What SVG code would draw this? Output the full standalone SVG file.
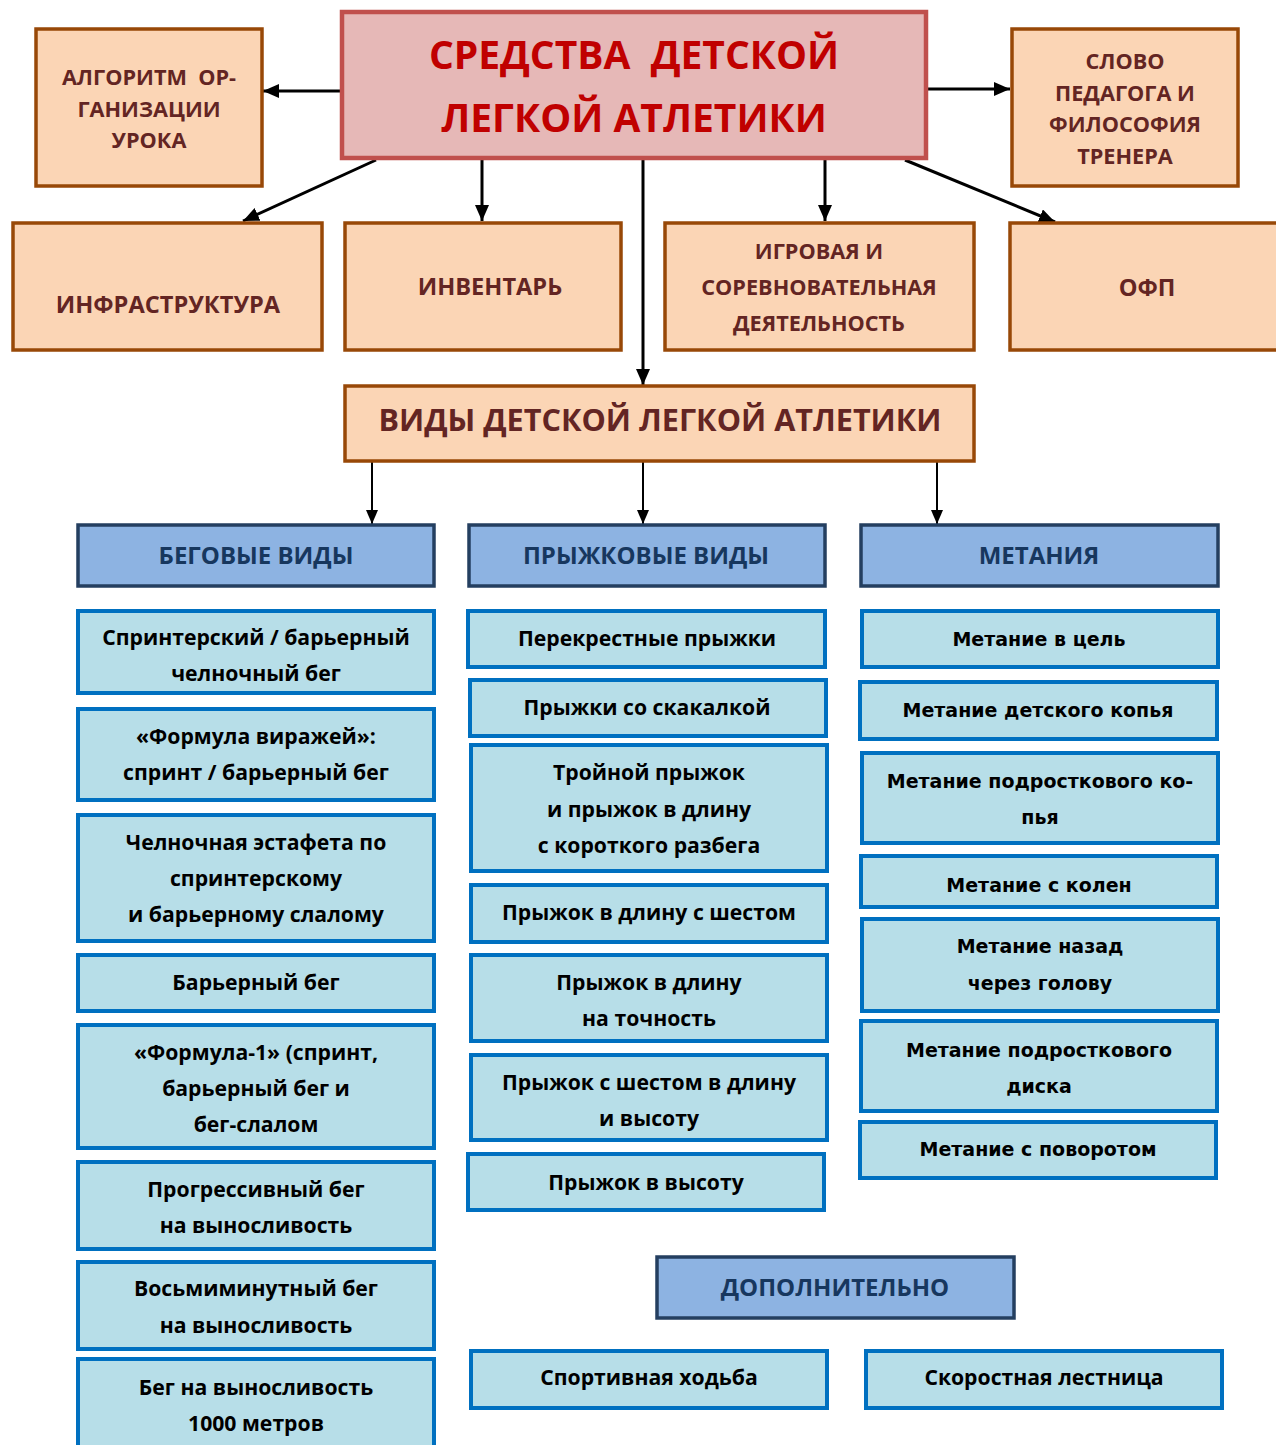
<svg xmlns="http://www.w3.org/2000/svg" width="1276" height="1445" viewBox="0 0 1276 1445">
<defs>
<style>
.t{font-family:"Open Sans","Noto Sans","DejaVu Sans",sans-serif;font-weight:700;text-anchor:middle}
.title{font-size:39px;fill:#C00000}
.or{fill:#FBD5B5;stroke:#984807;stroke-width:3.5}
.ot{fill:#632523}
.o21{font-size:21.7px}
.o23{font-size:23.6px}
.bh{fill:#8DB3E2;stroke:#243F60;stroke-width:3.5}
.bt{font-size:24px;fill:#17375E}
.lb{fill:#B7DEE8;stroke:#0070C0;stroke-width:4}
.b{font-size:21.2px;fill:#000}
.m{font-family:"DejaVu Sans","Verdana",sans-serif;font-weight:700;font-size:19px;fill:#000;text-anchor:middle}
.c3{stroke:#000;stroke-width:3;fill:none}
.c2{stroke:#000;stroke-width:2;fill:none}
</style>
<marker id="ah" markerUnits="userSpaceOnUse" markerWidth="18" markerHeight="16" refX="16" refY="7" orient="auto">
<path d="M0,0 L16,7 L0,14 z" fill="#000"/>
</marker>
<marker id="ah2" markerUnits="userSpaceOnUse" markerWidth="16" markerHeight="14" refX="14" refY="6" orient="auto">
<path d="M0,0 L14,6 L0,12 z" fill="#000"/>
</marker>
</defs>
<rect width="1276" height="1445" fill="#fff"/>

<g id="connectors">
<line class="c3" x1="342" y1="91" x2="263" y2="91" marker-end="url(#ah)"/>
<line class="c3" x1="927" y1="89" x2="1010" y2="89" marker-end="url(#ah)"/>
<line class="c3" x1="376" y1="160" x2="243" y2="221" marker-end="url(#ah)"/>
<line class="c3" x1="482" y1="160" x2="482" y2="221" marker-end="url(#ah)"/>
<line class="c3" x1="643" y1="160" x2="643" y2="385" marker-end="url(#ah)"/>
<line class="c3" x1="825" y1="160" x2="825" y2="221" marker-end="url(#ah)"/>
<line class="c3" x1="905" y1="160" x2="1055" y2="222" marker-end="url(#ah)"/>
<line class="c2" x1="372" y1="462" x2="372" y2="524" marker-end="url(#ah2)"/>
<line class="c2" x1="643" y1="462" x2="643" y2="524" marker-end="url(#ah2)"/>
<line class="c2" x1="937" y1="462" x2="937" y2="524" marker-end="url(#ah2)"/>
</g>

<g id="n-main">
<rect x="342" y="12" width="584" height="146" fill="#E6B8B7" stroke="#C0504D" stroke-width="4.5"/>
<text class="t title" x="634" y="69">СРЕДСТВА&#160; ДЕТСКОЙ</text>
<text class="t title" x="634" y="132">ЛЕГКОЙ АТЛЕТИКИ</text>
</g>

<g id="n-algoritm">
<rect class="or" x="36" y="29" width="226" height="157"/>
<text class="t ot o21" x="149" y="85">АЛГОРИТМ&#160; ОР-</text>
<text class="t ot o21" x="149" y="117">ГАНИЗАЦИИ</text>
<text class="t ot o21" x="149" y="148">УРОКА</text>
</g>

<g id="n-slovo">
<rect class="or" x="1012" y="29" width="226" height="157"/>
<text class="t ot o21" x="1125" y="69">СЛОВО</text>
<text class="t ot o21" x="1125" y="101">ПЕДАГОГА И</text>
<text class="t ot o21" x="1125" y="132">ФИЛОСОФИЯ</text>
<text class="t ot o21" x="1125" y="164">ТРЕНЕРА</text>
</g>

<g id="n-infra">
<rect class="or" x="13" y="223" width="309" height="127"/>
<text class="t ot o23" x="168" y="313">ИНФРАСТРУКТУРА</text>
</g>

<g id="n-inventar">
<rect class="or" x="345" y="223" width="276" height="127"/>
<text class="t ot o23" x="490" y="295">ИНВЕНТАРЬ</text>
</g>

<g id="n-igrovaya">
<rect class="or" x="665" y="223" width="309" height="127"/>
<text class="t ot o21" x="819" y="259">ИГРОВАЯ И</text>
<text class="t ot o21" x="819" y="295">СОРЕВНОВАТЕЛЬНАЯ</text>
<text class="t ot o21" x="819" y="331">ДЕЯТЕЛЬНОСТЬ</text>
</g>

<g id="n-ofp">
<rect class="or" x="1010" y="223" width="280" height="127"/>
<text class="t ot o23" x="1147" y="296">ОФП</text>
</g>

<g id="n-vidy">
<rect class="or" x="345" y="386" width="629" height="75"/>
<text class="t ot" style="font-size:30.6px" x="660" y="431">ВИДЫ ДЕТСКОЙ ЛЕГКОЙ АТЛЕТИКИ</text>
</g>

<g id="n-begovye">
<rect class="bh" x="78" y="525" width="356" height="61"/>
<text class="t bt" x="256" y="564">БЕГОВЫЕ ВИДЫ</text>
</g>
<g id="n-pryzhkovye">
<rect class="bh" x="469" y="525" width="356" height="61"/>
<text class="t bt" x="646" y="564">ПРЫЖКОВЫЕ ВИДЫ</text>
</g>
<g id="n-metaniya">
<rect class="bh" x="861" y="525" width="357" height="61"/>
<text class="t bt" x="1039" y="564">МЕТАНИЯ</text>
</g>
<g id="n-dop">
<rect class="bh" x="657" y="1257" width="357" height="61"/>
<text class="t bt" x="835" y="1296">ДОПОЛНИТЕЛЬНО</text>
</g>

<g id="n-l1">
<rect class="lb" x="78" y="611" width="356" height="82"/>
<text class="t b" x="256" y="645">Спринтерский / барьерный</text>
<text class="t b" x="256" y="681">челночный бег</text>
</g>
<g id="n-l2">
<rect class="lb" x="78" y="709" width="356" height="91"/>
<text class="t b" x="256" y="744">«Формула виражей»:</text>
<text class="t b" x="256" y="780">спринт / барьерный бег</text>
</g>
<g id="n-l3">
<rect class="lb" x="78" y="815" width="356" height="126"/>
<text class="t b" x="256" y="850">Челночная эстафета по</text>
<text class="t b" x="256" y="886">спринтерскому</text>
<text class="t b" x="256" y="922">и барьерному слалому</text>
</g>
<g id="n-l4">
<rect class="lb" x="78" y="955" width="356" height="56"/>
<text class="t b" x="256" y="990">Барьерный бег</text>
</g>
<g id="n-l5">
<rect class="lb" x="78" y="1025" width="356" height="123"/>
<text class="t b" x="256" y="1060">«Формула-1» (спринт,</text>
<text class="t b" x="256" y="1096">барьерный бег и</text>
<text class="t b" x="256" y="1132">бег-слалом</text>
</g>
<g id="n-l6">
<rect class="lb" x="78" y="1162" width="356" height="87"/>
<text class="t b" x="256" y="1197">Прогрессивный бег</text>
<text class="t b" x="256" y="1233">на выносливость</text>
</g>
<g id="n-l7">
<rect class="lb" x="78" y="1262" width="356" height="87"/>
<text class="t b" x="256" y="1296">Восьмиминутный бег</text>
<text class="t b" x="256" y="1333">на выносливость</text>
</g>
<g id="n-l8">
<rect class="lb" x="78" y="1359" width="356" height="95"/>
<text class="t b" x="256" y="1395">Бег на выносливость</text>
<text class="t b" x="256" y="1431">1000 метров</text>
</g>

<g id="n-p1">
<rect class="lb" x="468" y="611" width="357" height="56"/>
<text class="t b" x="647" y="646">Перекрестные прыжки</text>
</g>
<g id="n-p2">
<rect class="lb" x="470" y="680" width="356" height="56"/>
<text class="t b" x="647" y="715">Прыжки со скакалкой</text>
</g>
<g id="n-p3">
<rect class="lb" x="471" y="745" width="356" height="126"/>
<text class="t b" x="649" y="780">Тройной прыжок</text>
<text class="t b" x="649" y="817">и прыжок в длину</text>
<text class="t b" x="649" y="853">с короткого разбега</text>
</g>
<g id="n-p4">
<rect class="lb" x="471" y="885" width="356" height="57"/>
<text class="t b" x="649" y="920">Прыжок в длину с шестом</text>
</g>
<g id="n-p5">
<rect class="lb" x="471" y="955" width="356" height="86"/>
<text class="t b" x="649" y="990">Прыжок в длину</text>
<text class="t b" x="649" y="1026">на точность</text>
</g>
<g id="n-p6">
<rect class="lb" x="471" y="1055" width="356" height="85"/>
<text class="t b" x="649" y="1090">Прыжок с шестом в длину</text>
<text class="t b" x="649" y="1126">и высоту</text>
</g>
<g id="n-p7">
<rect class="lb" x="468" y="1154" width="356" height="56"/>
<text class="t b" x="646" y="1190">Прыжок в высоту</text>
</g>

<g id="n-m1">
<rect class="lb" x="862" y="611" width="356" height="56"/>
<text class="m" x="1039" y="646">Метание в цель</text>
</g>
<g id="n-m2">
<rect class="lb" x="860" y="682" width="357" height="57"/>
<text class="m" x="1038" y="717">Метание детского копья</text>
</g>
<g id="n-m3">
<rect class="lb" x="862" y="753" width="356" height="90"/>
<text class="m" x="1040" y="788">Метание подросткового ко-</text>
<text class="m" x="1040" y="824">пья</text>
</g>
<g id="n-m4">
<rect class="lb" x="861" y="856" width="356" height="51"/>
<text class="m" x="1039" y="892">Метание с колен</text>
</g>
<g id="n-m5">
<rect class="lb" x="862" y="919" width="356" height="92"/>
<text class="m" x="1040" y="953">Метание назад</text>
<text class="m" x="1040" y="990">через голову</text>
</g>
<g id="n-m6">
<rect class="lb" x="861" y="1021" width="356" height="90"/>
<text class="m" x="1039" y="1057">Метание подросткового</text>
<text class="m" x="1039" y="1093">диска</text>
</g>
<g id="n-m7">
<rect class="lb" x="860" y="1122" width="356" height="56"/>
<text class="m" x="1038" y="1156">Метание с поворотом</text>
</g>

<g id="n-hodba">
<rect class="lb" x="471" y="1351" width="356" height="57"/>
<text class="t b" x="649" y="1385">Спортивная ходьба</text>
</g>
<g id="n-lestnica">
<rect class="lb" x="866" y="1351" width="356" height="57"/>
<text class="t b" x="1044" y="1385">Скоростная лестница</text>
</g>
</svg>
